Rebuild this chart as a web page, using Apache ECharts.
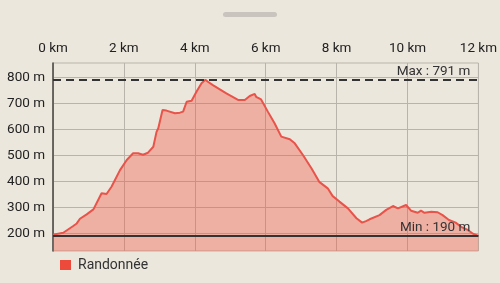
<!DOCTYPE html>
<html>
<head>
<meta charset="utf-8">
<script src="https://cdn.jsdelivr.net/npm/echarts@6/dist/echarts.min.js"></script>
<style>
html,body{margin:0;padding:0;background:#ECE7DD;}
#c{width:500px;height:283px;}
</style>
</head>
<body>
<div id="c"></div>
<script>
const seriesName = 'Randonnée';
const distKm = [0,0.29,0.57,0.67,0.76,0.95,1.14,1.37,1.51,1.65,1.89,2.08,2.26,2.40,2.54,2.68,2.83,2.92,2.97,3.09,3.20,3.44,3.58,3.67,3.77,3.91,4.05,4.19,4.30,4.37,4.51,4.89,5.22,5.41,5.55,5.69,5.73,5.87,6.06,6.25,6.44,6.68,6.82,7.05,7.29,7.51,7.75,7.89,8.08,8.32,8.56,8.72,8.83,8.93,9.21,9.40,9.59,9.73,9.96,10.10,10.29,10.38,10.48,10.67,10.85,10.99,11.17,11.36,11.51,11.70,11.83,12.0];
const elevM = [195,202,228,238,256,273,292,354,351,379,443,482,508,508,502,510,533,590,604,674,672,662,664,668,706,710,745,777,791,783,770,738,713,713,728,736,725,715,668,623,572,562,546,501,450,398,373,343,322,296,258,241,247,254,270,290,305,296,309,287,279,287,279,283,281,270,251,241,225,213,200,190];
const xTicks = [0,2,4,6,8,10,12];
const yTicks = [200,300,400,500,600,700,800];
const maxElev = 791;
const minElev = 190;
const yRange = [132, 855];

const chart = echarts.init(document.getElementById('c'), null, {renderer:'canvas'});
const font = 'Roboto';
chart.setOption({
  backgroundColor:'#ECE7DD',
  animation:false,
  textStyle:{fontFamily:font},
  graphic:[{type:'rect',left:223,top:12,shape:{width:54,height:5,r:2.5},style:{fill:'#C9C5BE'}}],
  legend:{
    left:55, top:253, itemWidth:11, itemHeight:10, itemGap:10,
    icon:'rect',
    textStyle:{fontFamily:font,fontSize:14,color:'#333',padding:[0,0,0,2]},
    data:[{name:seriesName,itemStyle:{color:'#EE4A3C'}}]
  },
  grid:{left:53,right:21,top:63,bottom:32,show:true,borderColor:'#B9B4AB',borderWidth:1,backgroundColor:'transparent'},
  xAxis:{
    type:'value', position:'top', min:0, max:12, interval:2,
    axisLine:{show:false}, axisTick:{show:false},
    axisLabel:{customValues:xTicks,formatter:v=>v+' km',fontFamily:font,fontSize:13.5,color:'#222',margin:7},
    splitLine:{show:true,lineStyle:{color:'#B9B4AB',width:1}}
  },
  yAxis:{
    type:'value', min:yRange[0], max:yRange[1],
    axisLine:{show:true,lineStyle:{color:'#4A4744',width:1.5}},
    axisTick:{show:false,customValues:yTicks},
    axisLabel:{customValues:yTicks,formatter:v=>v+' m',fontFamily:font,fontSize:13.5,color:'#222',margin:8},
    splitLine:{show:true,lineStyle:{color:'#B9B4AB',width:1}}
  },
  series:[{
    name:seriesName, type:'line', symbol:'none', smooth:false,
    data:distKm.map((d,i)=>[d,elevM[i]]),
    lineStyle:{color:'#E8534A',width:2},
    itemStyle:{color:'#EE4A3C'},
    areaStyle:{origin:'start',color:'rgba(240,80,60,0.36)',opacity:1},
    markLine:{
      silent:true, symbol:'none',
      data:[
        {yAxis:maxElev,lineStyle:{type:[8,5],color:'#333',width:2},
         label:{formatter:'Max : '+maxElev+' m',position:'insideEndTop',fontFamily:font,fontSize:13.5,color:'#333',distance:[8,1]}},
        {yAxis:minElev,lineStyle:{type:'solid',color:'#333',width:2},
         label:{formatter:'Min : '+minElev+' m',position:'insideEndTop',fontFamily:font,fontSize:13.5,color:'#333',distance:[8,1]}}
      ]
    }
  }]
});
</script>
</body>
</html>
